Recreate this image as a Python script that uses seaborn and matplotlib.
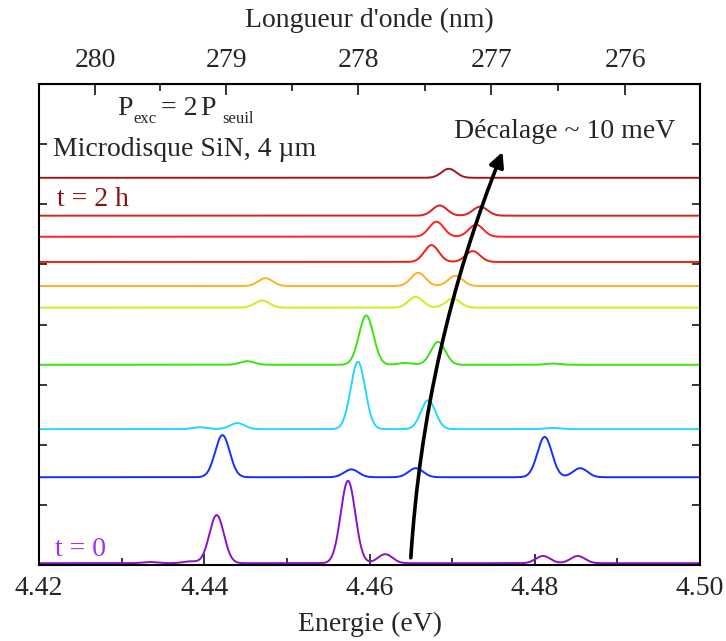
import numpy as np
import pandas as pd
import matplotlib
matplotlib.use("Agg")
import matplotlib.pyplot as plt
import seaborn as sns

# ---- data ----
labels = ["t=0", "s2", "s3", "s4", "s5", "s6", "s7", "s8", "s9", "t=2h"]
offsets = [0.03, 1.46, 2.26, 3.33, 4.28, 4.64, 5.04, 5.46, 5.81, 6.44]
peak_centers = [
    [4.4334, 4.4383, 4.4415, 4.4574, 4.4619, 4.4810, 4.4852],
    [4.4422, 4.4578, 4.4656, 4.4812, 4.4855],
    [4.4395, 4.4440, 4.4586, 4.4671, 4.4821],
    [4.4452, 4.4596, 4.4643, 4.4683, 4.4822],
    [4.4470, 4.4656, 4.4701],
    [4.4474, 4.4659, 4.4704],
    [4.4675, 4.4725],
    [4.4681, 4.4729],
    [4.4685, 4.4734],
    [4.4696],
]
peak_heights = [
    [0.02, 0.03, 0.80, 1.37, 0.15, 0.12, 0.12],
    [0.70, 0.13, 0.15, 0.67, 0.15],
    [0.03, 0.10, 1.12, 0.48, 0.02],
    [0.06, 0.82, 0.03, 0.38, 0.02],
    [0.12, 0.18, 0.15],
    [0.13, 0.22, 0.17],
    [0.28, 0.18],
    [0.25, 0.20],
    [0.17, 0.15],
    [0.15],
]
peak_widths = 0.00088
colors = ["#8B10C8", "#1030FF", "#20D8FF", "#40E010", "#C8F020",
          "#FFB020", "#F02010", "#FF2020", "#D82020", "#A01818"]

energy = np.linspace(4.42, 4.50, 1601)

rows = []
for lab, off, cs, hs in zip(labels, offsets, peak_centers, peak_heights):
    y = np.full_like(energy, off)
    for c, h in zip(cs, hs):
        y = y + h * np.exp(-0.5 * ((energy - c) / peak_widths) ** 2)
    rows.append(pd.DataFrame({"E": energy, "I": y, "spec": lab}))
df = pd.concat(rows, ignore_index=True)

sns.set_style("ticks")
plt.rcParams["font.family"] = ["Liberation Serif", "DejaVu Serif"]

W, H = 726, 641
fig = plt.figure(figsize=(W / 100, H / 100), dpi=100)
ax = fig.add_axes([39 / W, 1 - 565 / H, 661 / W, 481 / H])

sns.lineplot(data=df, x="E", y="I", hue="spec", palette=colors,
             hue_order=labels, legend=False, lw=1.4, ax=ax, sort=False,
             estimator=None)

ax.set_xlim(4.42, 4.50)
ax.set_ylim(0, 8)
ax.set_xticks([4.42, 4.44, 4.46, 4.48, 4.50])
ax.set_xticklabels(["4.42", "4.44", "4.46", "4.48", "4.50"])
ax.set_xticks(np.arange(4.43, 4.50, 0.02), minor=True)
ax.set_yticks(np.arange(0, 9, 1))
ax.set_yticklabels([])
ax.tick_params(axis="x", which="major", direction="in", length=8, width=1.3,
               labelsize=20, pad=8, top=False)
ax.tick_params(axis="x", which="minor", direction="in", length=5, width=1.3,
               top=False)
ax.tick_params(axis="y", direction="in", length=6, width=1.3, right=True)
for s in ax.spines.values():
    s.set_linewidth(1.5)
    s.set_color("black")
ax.set_xlabel("Energie (eV)", fontsize=20, labelpad=8)
ax.set_ylabel("")

hc = 1239.5
sec = ax.secondary_xaxis("top", functions=(lambda e: hc / e, lambda l: hc / l))
sec.set_xticks([280, 279, 278, 277, 276])
sec.set_xticklabels(["280", "279", "278", "277", "276"])
sec.set_xticks([279.5, 278.5, 277.5, 276.5], minor=True)
sec.tick_params(which="major", direction="in", length=8, width=1.3,
                labelsize=20, pad=8)
sec.tick_params(which="minor", direction="in", length=5, width=1.3)
sec.set_xlabel("Longueur d'onde (nm)", fontsize=20, labelpad=15)

# annotations
def ftxt(x, y, s, **kw):
    fig.text(x / W, 1 - y / H, s, **kw)

ftxt(117, 115, "P", fontsize=20, ha="left", va="baseline")
ftxt(133, 123, "exc", fontsize=12, ha="left", va="baseline")
ftxt(161, 115, "= 2", fontsize=20, ha="left", va="baseline")
ftxt(200, 115, "P", fontsize=20, ha="left", va="baseline")
ftxt(222, 123, "seuil", fontsize=12, ha="left", va="baseline")
ftxt(53, 150, "Microdisque SiN, 4 µm", fontsize=20, ha="left", va="center")
ftxt(57, 199, "t = 2 h", fontsize=20, ha="left", va="center", color="#8B1010")
ftxt(55, 549, "t = 0", fontsize=20, ha="left", va="center", color="#9B30FF")
ftxt(565, 132, "Décalage ~ 10 meV", fontsize=20, ha="center", va="center")

ax.annotate("", xy=(4.4761, 6.87), xytext=(4.4650, 0.12),
            arrowprops=dict(arrowstyle="-|>", color="black", lw=2.6,
                            mutation_scale=22,
                            connectionstyle="arc3,rad=-0.08",
                            shrinkA=0, shrinkB=0))

fig.savefig("out.png", dpi=100)
